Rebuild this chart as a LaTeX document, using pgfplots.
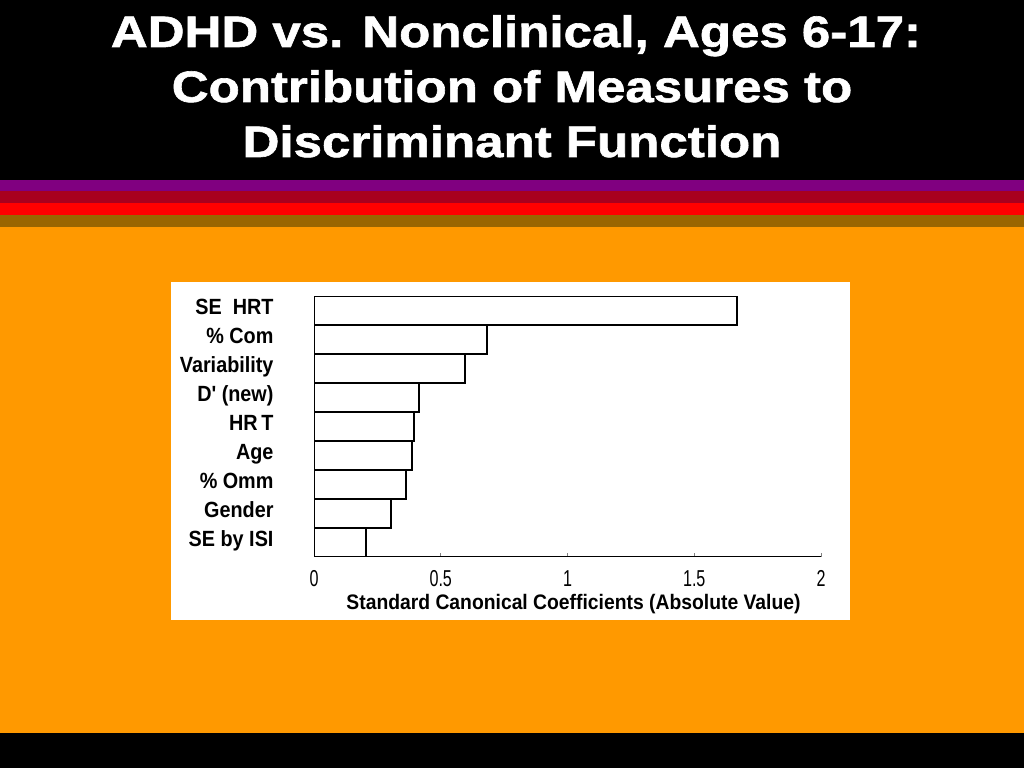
\documentclass[border=0pt]{standalone}
\usepackage{fontspec}
\usepackage{pgfplots}
\pgfplotsset{compat=1.18}
\setmainfont{Liberation Sans}
\newfontfamily\titlefont[FakeStretch=1.16,FakeBold=1.4]{Liberation Sans Bold}
\newfontfamily\labelfont[FakeStretch=0.9]{Liberation Sans Bold}
\newfontfamily\xlabelfont[FakeStretch=0.92]{Liberation Sans Bold}
\newfontfamily\tickfont[FakeStretch=0.7]{Liberation Sans}

\definecolor{slpurple}{HTML}{800080}
\definecolor{sldarkred}{HTML}{A8001E}
\definecolor{slred}{HTML}{FF0000}
\definecolor{slbrown}{HTML}{9A6600}
\definecolor{slorange}{HTML}{FF9900}

\begin{document}
\begin{tikzpicture}[x=1pt,y=1pt]
  % slide background (y measured upward from bottom edge)
  \fill[black] (0,0) rectangle (1024,768);
  \fill[slpurple] (0,588) rectangle (1024,577);
  \fill[sldarkred] (0,577) rectangle (1024,565);
  \fill[slred] (0,565) rectangle (1024,553);
  \fill[slbrown] (0,553) rectangle (1024,541);
  \fill[slorange] (0,541) rectangle (1024,35);
  \fill[white] (171,486) rectangle (850,148);

  % title
  \begin{scope}[every node/.style={anchor=base, text=white, inner sep=0pt,
      font=\titlefont\fontsize{44}{50}\selectfont}]
    \node at (516,721) {ADHD vs. Nonclinical, Ages 6-17:};
    \node at (512,666) {Contribution of Measures to};
    \node at (512,611) {Discriminant Function};
  \end{scope}

  \begin{axis}[
    at={(314pt,211pt)}, anchor=south west,
    scale only axis,
    width=507pt, height=261pt,
    xbar,
    bar width=29pt,
    xmin=0, xmax=2,
    ymin=-0.5, ymax=8.5,
    axis x line*=bottom,
    axis y line*=left,
    x axis line style={-, line width=1pt},
    y axis line style={draw=none},
    ytick={0,...,8},
    yticklabels={SE by ISI, Gender, \% Omm, Age, HR\,T, D' (new), Variability, \% Com, SE\ \ HRT},
    ytick style={draw=none},
    yticklabel style={font=\labelfont\fontsize{22}{22}\selectfont, anchor=east,
      text height=16pt, text depth=8pt, xshift=-33pt},
    xtick={0,0.5,1,1.5,2},
    xticklabels={0,0.5,1,1.5,2},
    xtick align=inside,
    major tick length=4pt,
    xtick style={line width=0.8pt},
    xticklabel style={font=\tickfont\fontsize{23}{23}\selectfont, yshift=-10pt},
    xlabel={Standard Canonical Coefficients (Absolute Value)},
    xlabel style={font=\xlabelfont\fontsize{21}{21}\selectfont,
      at={(axis description cs:0.5,0)}, anchor=north, xshift=6pt, yshift=-34pt},
  ]
  \addplot[draw=black, fill=white, line width=1.6pt] coordinates {
    (0.205,0) (0.304,1) (0.363,2) (0.387,3) (0.394,4)
    (0.414,5) (0.596,6) (0.682,7) (1.669,8)};
  \end{axis}
\end{tikzpicture}
\end{document}
